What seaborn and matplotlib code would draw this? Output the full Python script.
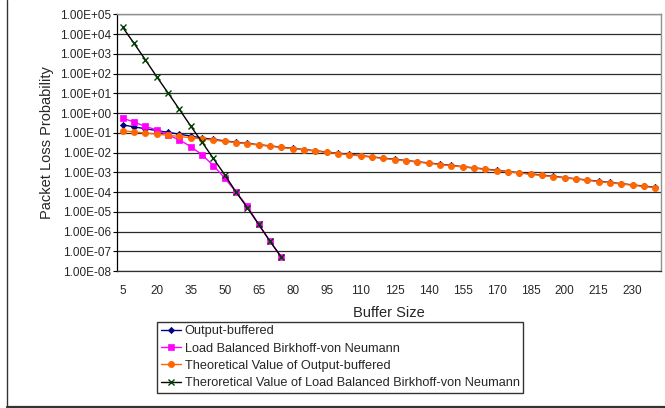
import numpy as np
import pandas as pd
import matplotlib
matplotlib.use("Agg")
import matplotlib.pyplot as plt
import matplotlib.ticker as mticker
from matplotlib.lines import Line2D
import seaborn as sns

# --- Data ---
buffer_size = [5, 10, 15, 20, 25, 30, 35, 40, 45, 50, 55, 60, 65, 70, 75, 80,
               85, 90, 95, 100, 105, 110, 115, 120, 125, 130, 135, 140, 145, 150,
               155, 160, 165, 170, 175, 180, 185, 190, 195, 200, 205, 210, 215,
               220, 225, 230, 235, 240]

output_buffered = [0.25, 0.20, 0.16, 0.13, 0.105, 0.085, 0.068, 0.055, 0.046, 0.039,
                   0.0331, 0.0287, 0.0250, 0.0216, 0.0187, 0.0162, 0.0141, 0.0123,
                   0.0106, 0.00922, 0.00800, 0.00694, 0.00602, 0.00522, 0.00453,
                   0.00393, 0.00341, 0.00296, 0.00257, 0.00223, 0.00193, 0.00167,
                   0.00146, 0.00126, 0.00109, 0.000950, 0.000824, 0.000714, 0.000620,
                   0.000538, 0.000467, 0.000405, 0.000352, 0.000305, 0.000264,
                   0.000230, 0.000199, 0.000173]

lb_bvn = [0.55, 0.35, 0.21, 0.14, 0.076, 0.044, 0.020, 0.0077, 0.0022, 5.1e-4,
          1.0e-4, 1.9e-5, 2.3e-6, 3.2e-7, 5.2e-8]

theory_output = [0.125, 0.111, 0.0975, 0.0855, 0.0745, 0.0648, 0.0562, 0.0488,
                 0.0423, 0.0367, 0.0318, 0.0276, 0.0240, 0.0208, 0.0180, 0.0156,
                 0.0136, 0.0118, 0.0102, 0.00887, 0.00769, 0.00667, 0.00579,
                 0.00502, 0.00436, 0.00378, 0.00328, 0.00285, 0.00247, 0.00214,
                 0.00186, 0.00161, 0.00140, 0.00121, 0.00105, 0.000913, 0.000792,
                 0.000687, 0.000596, 0.000517, 0.000449, 0.000389, 0.000338,
                 0.000293, 0.000254, 0.000221, 0.000191, 0.000166]

theory_lb_bvn = [2.2e4, 3.4e3, 5.0e2, 70, 10.5, 1.55, 0.22, 0.034, 5.0e-3, 7.6e-4,
                 1.0e-4, 1.6e-5, 2.3e-6, 3.2e-7, 5.0e-8]

labels = ["Output-buffered",
          "Load Balanced Birkhoff-von Neumann",
          "Theoretical Value of Output-buffered",
          "Theroretical Value of Load Balanced Birkhoff-von Neumann"]

sns.set_style("white")
plt.rcParams["font.family"] = ["Liberation Sans", "DejaVu Sans"]

fig = plt.figure(figsize=(6.65, 4.08), dpi=100)
ax = fig.add_axes([117 / 665, 1 - 271 / 408, 544 / 665, (271 - 14.3) / 408])

n_lb = len(lb_bvn)
sns.lineplot(x=buffer_size, y=output_buffered, ax=ax, label=labels[0],
             color="#000080", lw=1, marker="D", markersize=3.2,
             markeredgecolor="#000080", markeredgewidth=0.5, sort=False)
sns.lineplot(x=buffer_size[:n_lb], y=lb_bvn, ax=ax, label=labels[1],
             color="#FF00FF", lw=1, marker="s", markersize=4.5,
             markeredgecolor="#FF00FF", markeredgewidth=0.5, sort=False)
sns.lineplot(x=buffer_size, y=theory_output, ax=ax, label=labels[2],
             color="#FF6600", lw=1, marker="o", markersize=4.5,
             markeredgecolor="#FF6600", markeredgewidth=0.5, sort=False)
sns.lineplot(x=buffer_size[:len(theory_lb_bvn)], y=theory_lb_bvn, ax=ax,
             label=labels[3], color="black", lw=1, marker="x", markersize=5,
             markeredgecolor="#004000", markeredgewidth=1, sort=False)

ax.set_yscale("log")
ax.set_ylim(1e-8, 1e5)
ax.set_xlim(2.5, 242.5)
ax.yaxis.set_major_locator(mticker.LogLocator(base=10, numticks=20))
ax.yaxis.set_minor_locator(mticker.NullLocator())
ax.yaxis.set_major_formatter(mticker.FuncFormatter(lambda v, p: f"{v:.2E}"))
ax.set_xticks(buffer_size[::3])
ax.set_xticklabels([str(b) for b in buffer_size[::3]])

ax.tick_params(axis="y", which="major", direction="out", length=3, width=0.8,
               color="black", pad=1.5, labelsize=8.5, left=True)
ax.tick_params(axis="x", length=0, pad=10, labelsize=8.5)

ax.yaxis.grid(True, color="#2a2a2a", lw=0.9)
ax.xaxis.grid(False)
ax.set_axisbelow(True)
for side in ["top", "right"]:
    ax.spines[side].set_color("#909090")
    ax.spines[side].set_linewidth(1)
ax.spines["left"].set_color("black")
ax.spines["bottom"].set_color("#303030")
ax.spines["left"].set_linewidth(0.9)
ax.spines["bottom"].set_linewidth(0.9)

ax.set_xlabel("Buffer Size", fontsize=10.5, va="center")
ax.xaxis.set_label_coords(0.5, -(313 - 271) / (271 - 14.3))
ax.set_ylabel("Packet Loss Probability", fontsize=10.5, va="center")
ax.yaxis.set_label_coords((47 - 117) / 544, 0.5)

handles, lbls = ax.get_legend_handles_labels()
ax.get_legend().remove()
leg = fig.legend(handles, lbls, loc="upper left",
                 bbox_to_anchor=(157 / 665, 1 - 321.7 / 408),
                 fontsize=9.15, frameon=True, fancybox=False, edgecolor="black",
                 borderpad=0.28, labelspacing=0.42, handlelength=1.6,
                 handletextpad=0.3, borderaxespad=0)
leg.get_frame().set_linewidth(1)

# chart-area border (left and bottom edges visible in the reference)
fig.add_artist(Line2D([6.7 / 665, 6.7 / 665], [1 - 406.5 / 408, 1.0],
                      transform=fig.transFigure, color="#333333", lw=1))
fig.add_artist(Line2D([6.7 / 665, 1.0], [1 - 406.5 / 408, 1 - 406.5 / 408],
                      transform=fig.transFigure, color="#333333", lw=1.6))

plt.savefig("out.png", dpi=100)
